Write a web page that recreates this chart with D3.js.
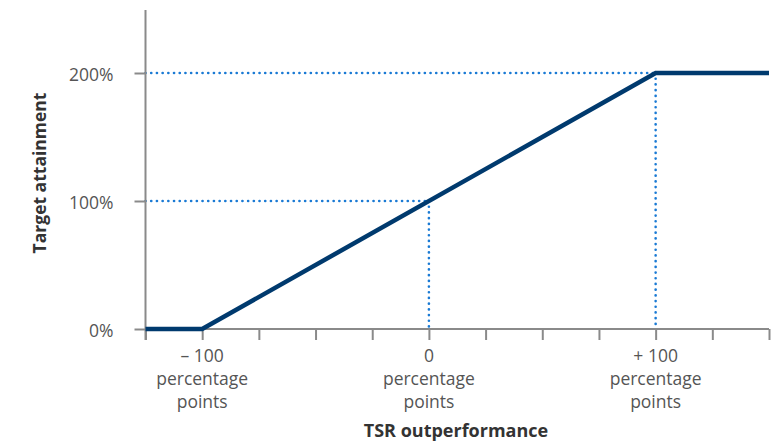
<!DOCTYPE html>
<html><head><meta charset="utf-8">
<script src="https://cdn.jsdelivr.net/npm/d3@7"></script>
<style>body{margin:0;background:#fff}svg{display:block}</style>
</head><body>
<svg id="c" width="779" height="442"></svg>
<script>
const curveX = [-125, -100, 100, 150];
const curveY = [0, 0, 200, 200];
const xTicks = [-125,-100,-75,-50,-25,0,25,50,75,100,125,150];
const xLabels = [{v:-100,t:"– 100"},{v:0,t:"0"},{v:100,t:"+ 100"}];
const yTicks = [0,100,200];
const refPoints = [{x:0,y:100},{x:100,y:200}];

const svg = d3.select("#c");
const x = d3.scaleLinear().domain([-125,150]).range([145.5,769]);
const y = d3.scaleLinear().domain([0,250]).range([329,9]);
const font = "'Open Sans','Roboto','Liberation Sans',sans-serif";

// dotted reference lines
refPoints.forEach(p=>{
  svg.append("line").attr("x1",x(-125)).attr("x2",x(p.x)).attr("y1",y(p.y)).attr("y2",y(p.y))
    .attr("stroke","#1a7ad4").attr("stroke-width",2.6).attr("stroke-dasharray","0.1 5.6").attr("stroke-linecap","round");
  svg.append("line").attr("x1",x(p.x)).attr("x2",x(p.x)).attr("y1",y(p.y)).attr("y2",y(0))
    .attr("stroke","#1a7ad4").attr("stroke-width",2.6).attr("stroke-dasharray","0.1 5.6").attr("stroke-linecap","round");
});

// axes
const gx = svg.append("g").attr("transform",`translate(0,${y(0)})`)
  .call(d3.axisBottom(x).tickValues(xTicks).tickSize(11).tickFormat(""));
gx.select(".domain").attr("stroke","#8a8a8a").attr("stroke-width",2).attr("d",`M${x(-125)},0H${x(150)}`);
gx.selectAll(".tick line").attr("stroke","#8a8a8a").attr("stroke-width",2);

const gy = svg.append("g").attr("transform",`translate(${x(-125)},0)`)
  .call(d3.axisLeft(y).tickValues(yTicks).tickSize(11).tickPadding(21).tickFormat(d=>d+"%"));
gy.select(".domain").attr("stroke","#8a8a8a").attr("stroke-width",2).attr("d",`M0,10V340`);
gy.selectAll(".tick line").attr("stroke","#8a8a8a").attr("stroke-width",2);
gy.selectAll(".tick text").attr("fill","#555").attr("font-size",17.5).attr("font-family",font).attr("dy","0.4em");

// x labels
xLabels.forEach(l=>{
  const t = svg.append("text").attr("x",x(l.v)).attr("text-anchor","middle")
    .attr("fill","#555").attr("font-size",17.5).attr("font-family",font);
  [l.t,"percentage","points"].forEach((s,i)=>t.append("tspan").attr("x",x(l.v)).attr("y",362+i*23).text(s));
});

// curve
const pts = curveX.map((v,i)=>[v,curveY[i]]);
svg.append("path").datum(pts)
  .attr("d",d3.line().x(d=>x(d[0])).y(d=>y(d[1])))
  .attr("fill","none").attr("stroke","#003a6e").attr("stroke-width",4.5);

// titles
svg.append("text").attr("x",456).attr("y",437).attr("text-anchor","middle")
  .attr("font-weight","bold").attr("font-size",18).attr("fill","#333").attr("font-family",font)
  .text("TSR outperformance");
svg.append("text").attr("transform","translate(46,173) rotate(-90)").attr("text-anchor","middle")
  .attr("font-weight","bold").attr("font-size",17.5).attr("fill","#333").attr("font-family",font)
  .text("Target attainment");
</script>
</body></html>
